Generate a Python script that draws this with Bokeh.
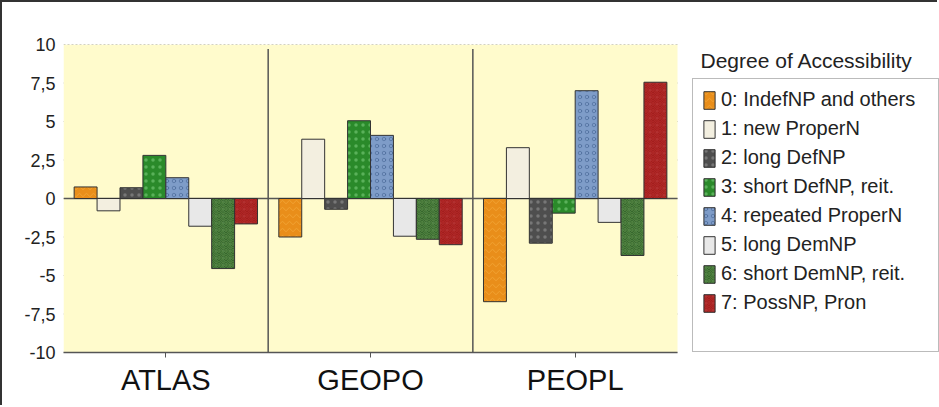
from bokeh.plotting import figure
from bokeh.models import (ColumnDataSource, Range1d, FixedTicker, BoxAnnotation,
                          Legend, LegendItem, Label)
from bokeh.transform import dodge
from bokeh.embed import file_html
from bokeh.resources import INLINE

# ---- data ----
groups = ["ATLAS", "GEOPO", "PEOPL"]
series = ["0: IndefNP and others", "1: new ProperN", "2: long DefNP", "3: short DefNP, reit.",
          "4: repeated ProperN", "5: long DemNP", "6: short DemNP, reit.", "7: PossNP, Pron"]
s0 = [0.75, -2.5, -6.7]
s1 = [-0.8, 3.85, 3.3]
s2 = [0.7, -0.7, -2.9]
s3 = [2.8, 5.05, -0.95]
s4 = [1.35, 4.1, 7.0]
s5 = [-1.8, -2.45, -1.55]
s6 = [-4.55, -2.65, -3.7]
s7 = [-1.65, -3.0, 7.55]
y_ticks = [-10, -7.5, -5, -2.5, 0, 2.5, 5, 7.5, 10]
y_tick_labels = ["-10", "-7,5", "-5", "-2,5", "0", "2,5", "5", "7,5", "10"]
legend_title = "Degree of Accessibility"

values = [s0, s1, s2, s3, s4, s5, s6, s7]
fills = ["#E98E1A", "#F3EFE0", "#4E4E4E", "#2A8A2A", "#7E9CC8", "#E8E8E8", "#2F6028", "#9E1A18"]
hatches = ["horizontal_wave", " ", "dot", "dot", "ring", " ", "spiral", "spiral"]
hatch_colors = ["#F7B448", "#E8D9A0", "#A0A0A0", "#8AD88A", "#3A5A8A", "#FFFFFF", "#7FB060", "#C8383A"]

n = len(groups)
xi = list(range(n))
data = {"group": groups, "xi": xi}
for i, v in enumerate(values):
    data["v%d" % i] = v
source = ColumnDataSource(data)

FONT = "Liberation Sans"
x_lo, x_hi = -0.5, n - 0.5
x_end = 3.78  # extra room on the right of the plot area for the legend

p = figure(x_range=Range1d(x_lo, x_end), y_range=Range1d(-10, 10),
           width=937, height=405, output_backend="svg", toolbar_location=None,
           min_border_left=61, min_border_right=0, min_border_top=42, min_border_bottom=55)
p.styles = {"border-left": "2px solid #333", "border-top": "2px solid #333"}
p.background_fill_color = "white"
p.border_fill_color = "white"
p.outline_line_color = None
p.xgrid.grid_line_color = None
p.ygrid.grid_line_color = None

# yellow plot area
p.add_layout(BoxAnnotation(left=x_lo, right=x_hi, bottom=-10, top=10, fill_color="#FFFBCC",
                           fill_alpha=1, line_color=None, level="underlay"))

# dotted horizontal grid lines over the plot area only
p.segment(x0=[x_lo] * len(y_ticks), x1=[x_hi] * len(y_ticks), y0=y_ticks, y1=y_ticks,
          line_color="#8A8A80", line_dash="2 2", line_width=1, level="underlay")

# y axis
p.yaxis.ticker = FixedTicker(ticks=y_ticks)
p.yaxis.major_label_overrides = {t: l for t, l in zip(y_ticks, y_tick_labels)}
p.yaxis.axis_line_color = None
p.yaxis.major_tick_line_color = None
p.yaxis.minor_tick_line_color = None
p.yaxis.major_tick_in = 0
p.yaxis.major_tick_out = 0
p.yaxis.major_label_text_font = FONT
p.yaxis.major_label_text_font_size = "18px"
p.yaxis.major_label_text_color = "#222222"
p.yaxis.major_label_standoff = 8

# x axis
p.xaxis.ticker = FixedTicker(ticks=xi)
p.xaxis.major_label_overrides = {i: g for i, g in zip(xi, groups)}
p.xaxis.bounds = (x_lo, x_hi)
p.xaxis.axis_line_color = "#555555"
p.xaxis.axis_line_width = 1.5
p.xaxis.major_tick_line_color = "#555555"
p.xaxis.major_tick_out = 5
p.xaxis.major_tick_in = 0
p.xaxis.minor_tick_line_color = None
p.xaxis.major_label_text_font = FONT
p.xaxis.major_label_text_font_size = "29px"
p.xaxis.major_label_text_color = "#111111"
p.xaxis.major_label_standoff = 6

# group separators and zero line
seps = [i + 0.5 for i in xi[:-1]]
p.segment(x0=seps, x1=seps, y0=[-10] * len(seps), y1=[9.7] * len(seps),
          line_color="#555555", line_width=1.5)
p.segment(x0=[x_lo], x1=[x_hi], y0=[0], y1=[0], line_color="#555555", line_width=1.5)

bw = 0.112
renderers = []
for i in range(8):
    r = p.vbar(x=dodge("xi", (i - 3.5) * bw), top="v%d" % i, bottom=0,
               width=bw, source=source, fill_color=fills[i], line_color="#333333", line_width=1,
               hatch_pattern=hatches[i], hatch_color=hatch_colors[i], hatch_alpha=0.5,
               hatch_scale=7)
    renderers.append(r)

# empty spacer row at the bottom of the legend box (as in the original)
spacer = p.vbar(x=[], top=[], width=0.1, fill_color=None, line_color=None)

items = [LegendItem(label=series[i], renderers=[renderers[i]]) for i in range(8)]
items.append(LegendItem(label=" ", renderers=[spacer]))
legend = Legend(items=items, location=(629, 0))
legend.label_text_font = FONT
legend.label_text_font_size = "20px"
legend.label_text_color = "#222222"
legend.glyph_width = 14
legend.glyph_height = 22
legend.label_height = 22
legend.label_standoff = 5
legend.spacing = 6
legend.padding = 9
legend.margin = 0
legend.label_width = 208
legend.border_line_color = "#777777"
legend.border_line_width = 1.5
legend.background_fill_color = "white"
legend.background_fill_alpha = 1
p.add_layout(legend, "center")

p.add_layout(Label(x=637, y=292, x_units="screen", y_units="screen", text=legend_title,
                   text_font=FONT, text_font_size="21px", text_color="#222222",
                   text_baseline="middle"))

open("out.html", "w").write(file_html(p, INLINE))
